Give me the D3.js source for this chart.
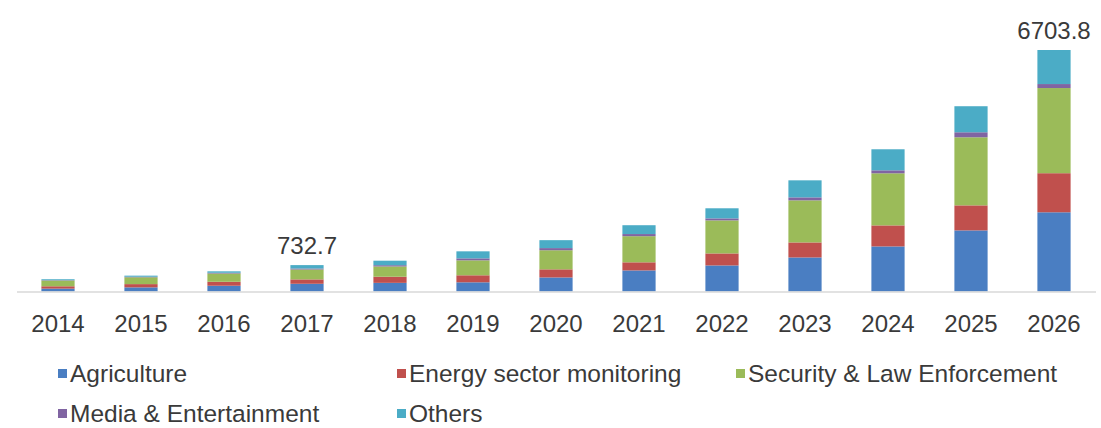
<!DOCTYPE html>
<html>
<head>
<meta charset="utf-8">
<script src="https://cdn.jsdelivr.net/npm/d3@7"></script>
<style>
  html, body { margin: 0; padding: 0; background: #ffffff; }
  svg { display: block; font-family: "Liberation Sans", Arial, sans-serif; }
</style>
</head>
<body>
<svg id="chart" width="1101" height="428"></svg>
<script>
// Market size by application, 2014-2026
const years = ["2014","2015","2016","2017","2018","2019","2020","2021","2022","2023","2024","2025","2026"];
const agriculture = [80, 115, 160, 214, 240, 255, 390, 585, 723, 945, 1251, 1696, 2198.8];
const energy      = [65, 90, 110, 122, 170, 195, 225, 225, 334, 417, 584, 695, 1085];
const security    = [160, 190, 230, 275, 285, 415, 530, 725, 917, 1168, 1446, 1890, 2364];
const media       = [10, 15, 20, 27, 35, 55, 60, 60, 56, 83, 83, 139, 111];
const others      = [25, 30, 40, 94.7, 125, 195, 220, 245, 280, 473, 584, 723, 945];

const seriesNames = ["Agriculture", "Energy sector monitoring", "Security & Law Enforcement", "Media & Entertainment", "Others"];
const seriesColors = ["#4A7EC2", "#C0504D", "#9BBB59", "#8064A2", "#4BACC6"];
// years whose total is printed above the bar
const labelledYears = ["2017", "2026"];

const keys = ["agriculture", "energy", "security", "media", "others"];
const table = years.map((y, i) => ({
  year: y,
  agriculture: agriculture[i],
  energy: energy[i],
  security: security[i],
  media: media[i],
  others: others[i]
}));

const svg = d3.select("#chart");
const baseY = 291.5;

const x = d3.scaleBand()
  .domain(years)
  .range([16.5, 1095.5])
  .paddingInner(0.6)
  .paddingOuter(0.3);

const maxTotal = d3.max(table, d => keys.reduce((s, k) => s + d[k], 0));
const y = d3.scaleLinear()
  .domain([0, maxTotal])
  .range([baseY, 50]);

const stacked = d3.stack().keys(keys)(table);
const color = d3.scaleOrdinal().domain(keys).range(seriesColors);

// stacked bars
svg.append("g")
  .selectAll("g")
  .data(stacked)
  .join("g")
  .attr("fill", d => color(d.key))
  .selectAll("rect")
  .data(d => d)
  .join("rect")
  .attr("x", d => x(d.data.year))
  .attr("width", x.bandwidth())
  .attr("y", d => y(d[1]))
  .attr("height", d => y(d[0]) - y(d[1]));

// category axis
const xAxis = svg.append("g")
  .attr("transform", `translate(0,${baseY})`)
  .call(d3.axisBottom(x).tickSize(0).tickPadding(23));
xAxis.select(".domain").attr("stroke", "#d9d9d9").attr("stroke-width", 1.5);
xAxis.selectAll("text")
  .attr("font-size", "24px")
  .attr("font-family", "'Liberation Sans', Arial, sans-serif")
  .attr("fill", "#3a3a3a");

// totals above selected bars
const totals = table.filter(d => labelledYears.includes(d.year))
  .map(d => ({ year: d.year, total: keys.reduce((s, k) => s + d[k], 0) }));
svg.append("g")
  .selectAll("text")
  .data(totals)
  .join("text")
  .attr("x", d => x(d.year) + x.bandwidth() / 2)
  .attr("y", d => y(d.total) - 11)
  .attr("text-anchor", "middle")
  .attr("font-size", "24px")
  .attr("fill", "#3a3a3a")
  .text(d => d3.format(".1f")(d.total));

// legend
const legendPos = [
  { x: 58, y: 382 },
  { x: 397, y: 382 },
  { x: 736, y: 382 },
  { x: 58, y: 422 },
  { x: 397, y: 422 }
];
const legend = svg.append("g")
  .selectAll("g")
  .data(seriesNames)
  .join("g")
  .attr("transform", (d, i) => `translate(${legendPos[i].x},${legendPos[i].y})`);
legend.append("rect")
  .attr("x", 0)
  .attr("y", -13)
  .attr("width", 9)
  .attr("height", 9)
  .attr("fill", (d, i) => seriesColors[i]);
legend.append("text")
  .attr("x", 12)
  .attr("y", 0)
  .attr("font-size", "24.5px")
  .attr("fill", "#3a3a3a")
  .text(d => d);
</script>
</body>
</html>
